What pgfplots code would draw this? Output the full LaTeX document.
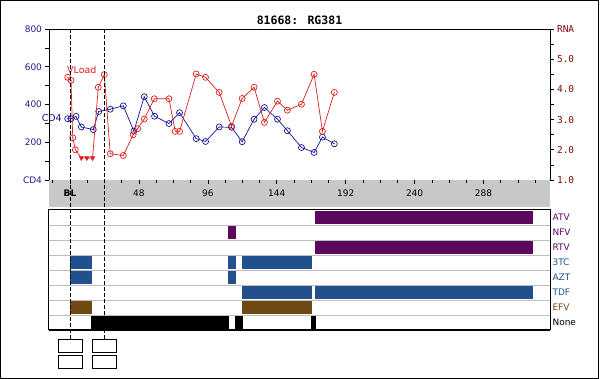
\documentclass[border=0pt]{standalone}
\usepackage{pgfplots}
\pgfplotsset{compat=1.18}
\usepackage{fontspec}
\setmainfont{DejaVu Sans}
\newfontfamily\monofont{DejaVu Sans Mono}
\definecolor{cdblue}{RGB}{20,20,150}
\definecolor{rnared}{RGB}{220,30,30}
\definecolor{axblue}{RGB}{30,30,140}
\definecolor{axred}{RGB}{128,10,10}
\definecolor{drugpurple}{RGB}{92,8,92}
\definecolor{drugblue}{RGB}{33,80,140}
\definecolor{drugbrown}{RGB}{110,74,18}
\definecolor{bandgray}{RGB}{200,200,200}
\definecolor{rowgray}{RGB}{190,190,190}
\pgfdeclareplotmark{codot}{%
  \pgfpathcircle{\pgfpointorigin}{\pgfplotmarksize}\pgfusepathqstroke
  \pgfpathcircle{\pgfpointorigin}{0.5pt}\pgfusepathqfill}
\pgfplotsset{myx/.style={xmin=-14.63, xmax=334.3, scale only axis, width=501pt, anchor=south west,
  tick style={black, line width=0.6pt}}}
\begin{document}
\begin{tikzpicture}
\useasboundingbox (0pt,0pt) rectangle (600pt,379pt);
\draw[line width=1pt] (0.5pt,0.5pt) rectangle (598.5pt,378.5pt);
\node[font=\monofont\bfseries\fontsize{11.5}{12}\selectfont] at (299.5pt,359pt) {81668: RG381};

% CD4 axis
\begin{axis}[myx, at={(49pt,199pt)}, height=151pt, ymin=0, ymax=800,
  ytick={0,200,...,800}, minor ytick={100,300,500,700},
  yticklabels={CD4,200,400,600,800}, ytick pos=left, xtick=\empty,
  tick align=outside, major tick length=3.5pt, minor tick length=3.5pt,
  yticklabel style={font=\fontsize{9}{10}\selectfont, text=axblue},
  axis line style={line width=0.8pt}, clip=false]
\addplot[cdblue, line width=0.7pt, mark=codot, mark size=3pt, mark options={solid}] coordinates {
(-1.6,325) (0.7,325) (4.2,337) (7.9,281) (16.2,267) (20,363) (28,375) (37.1,393)
(44.5,259) (51.7,441) (58.9,338) (68.9,299) (76.3,357) (87.9,219) (94.4,204)
(103.9,281) (112.5,279) (119.9,203) (128.2,322) (135.4,384) (144.5,322) (151.4,261)
(161.2,172) (170,146) (175.8,227) (184.1,192)};
\node[anchor=east, text=cdblue, font=\fontsize{9.5}{10}\selectfont, inner sep=0pt] at (axis cs:-5.6,327) {CD4};
\end{axis}

% RNA axis
\begin{axis}[myx, at={(49pt,199pt)}, height=151pt, ymin=1, ymax=6,
  ytick={1,...,6}, minor ytick={1.5,2.5,3.5,4.5,5.5},
  yticklabels={1.0,2.0,3.0,4.0,5.0,RNA}, ytick pos=right, xtick=\empty,
  tick align=outside, major tick length=3.5pt, minor tick length=3.5pt,
  yticklabel style={font=\monofont\fontsize{9.5}{10}\selectfont, text=axred},
  axis line style={line width=0.8pt}, clip=false]
\addplot[rnared, line width=0.7pt] coordinates {
(-1.6,4.4) (0.7,4.3) (1.9,2.4) (3.7,2.0) (7.9,1.73) (11.8,1.73) (15.7,1.73)
(19.7,4.07) (23.9,4.49) (28,1.87) (37.1,1.81) (44,2.5) (47.1,2.7) (51.7,3.02)
(58.7,3.69) (68.9,3.69) (73.3,2.61) (76.3,2.61) (87.9,4.51) (94.4,4.4) (103.9,3.9)
(112.5,2.78) (119.9,3.7) (128.2,4.07) (135.4,2.91) (144.5,3.61) (151.4,3.31)
(161.2,3.51) (170,4.5) (175.8,2.61) (184.1,3.9)};
\addplot[rnared, line width=0.7pt, only marks, mark=codot, mark size=3pt] coordinates {
(-1.6,4.4) (0.7,4.3) (1.9,2.4) (3.7,2.0)
(19.7,4.07) (23.9,4.49) (28,1.87) (37.1,1.81) (44,2.5) (47.1,2.7) (51.7,3.02)
(58.7,3.69) (68.9,3.69) (73.3,2.61) (76.3,2.61) (87.9,4.51) (94.4,4.4) (103.9,3.9)
(112.5,2.78) (119.9,3.7) (128.2,4.07) (135.4,2.91) (144.5,3.61) (151.4,3.31)
(161.2,3.51) (170,4.5) (175.8,2.61) (184.1,3.9)};
\addplot[rnared, only marks, mark=triangle*, mark size=2.6pt, mark options={rotate=180, fill=rnared}] coordinates {
(7.9,1.73) (11.8,1.73) (15.7,1.73)};
\node[anchor=west, text=rnared, font=\fontsize{9.5}{10}\selectfont, inner sep=0pt] at (axis cs:-2.1,4.64) {VLoad};
\end{axis}

% gray time band
\begin{axis}[myx, at={(49pt,172pt)}, height=27pt, ymin=0, ymax=1, ytick=\empty,
  axis background/.style={fill=bandgray}, axis line style={draw=none},
  xtick={0,48,...,288}, xticklabels={\textbf{BL},48,96,144,192,240,288},
  minor xtick={-12,12,24,36,60,72,84,108,120,132,156,168,180,204,216,228,252,264,276,300,312,324},
  xtick pos=right, xticklabel pos=left, tick align=inside,
  major tick length=4pt, minor tick length=3.5pt,
  xticklabel style={anchor=center, yshift=13.5pt, font=\fontsize{9}{10}\selectfont}]
\addplot[draw=none] coordinates {(0,0.5)};
\end{axis}

% regimen panel
\begin{axis}[myx, at={(49pt,49pt)}, height=120pt, ymin=0, ymax=8, xtick=\empty,
  ytick={0.5,1.5,...,7.5},
  yticklabels={\textcolor{black}{None},\textcolor{drugbrown}{EFV},\textcolor{drugblue}{TDF},\textcolor{drugblue}{AZT},\textcolor{drugblue}{3TC},\textcolor{drugpurple}{RTV},\textcolor{drugpurple}{NFV},\textcolor{drugpurple}{ATV}},
  ytick pos=right, yticklabel pos=right, major tick length=0pt,
  yticklabel style={anchor=west, font=\fontsize{9}{10}\selectfont, xshift=-1pt},
  extra y ticks={1,2,3,4,5,6,7}, extra y tick labels={},
  extra y tick style={grid=major, major grid style={rowgray, line width=0.7pt}, major tick length=0pt},
  axis line style={line width=1pt}, clip=false]
% ATV
\addplot[fill=drugpurple, draw=none] coordinates {(170.6,7.06) (322.3,7.06) (322.3,7.94) (170.6,7.94)} --cycle;
% NFV
\addplot[fill=drugpurple, draw=none] coordinates {(110.0,6.06) (115.6,6.06) (115.6,6.94) (110.0,6.94)} --cycle;
% RTV
\addplot[fill=drugpurple, draw=none] coordinates {(170.6,5.06) (322.3,5.06) (322.3,5.94) (170.6,5.94)} --cycle;
% 3TC
\addplot[fill=drugblue, draw=none] coordinates {(0,4.06) (15.1,4.06) (15.1,4.94) (0,4.94)} --cycle;
\addplot[fill=drugblue, draw=none] coordinates {(110.0,4.06) (115.6,4.06) (115.6,4.94) (110.0,4.94)} --cycle;
\addplot[fill=drugblue, draw=none] coordinates {(119.8,4.06) (168.4,4.06) (168.4,4.94) (119.8,4.94)} --cycle;
% AZT
\addplot[fill=drugblue, draw=none] coordinates {(0,3.06) (15.1,3.06) (15.1,3.94) (0,3.94)} --cycle;
\addplot[fill=drugblue, draw=none] coordinates {(110.0,3.06) (115.6,3.06) (115.6,3.94) (110.0,3.94)} --cycle;
% TDF
\addplot[fill=drugblue, draw=none] coordinates {(119.8,2.06) (168.4,2.06) (168.4,2.94) (119.8,2.94)} --cycle;
\addplot[fill=drugblue, draw=none] coordinates {(170.6,2.06) (322.3,2.06) (322.3,2.94) (170.6,2.94)} --cycle;
% EFV
\addplot[fill=drugbrown, draw=none] coordinates {(0,1.06) (15.1,1.06) (15.1,1.94) (0,1.94)} --cycle;
\addplot[fill=drugbrown, draw=none] coordinates {(119.8,1.06) (168.4,1.06) (168.4,1.94) (119.8,1.94)} --cycle;
% None
\addplot[fill=black, draw=none] coordinates {(14.6,0.06) (110.5,0.06) (110.5,0.94) (14.6,0.94)} --cycle;
\addplot[fill=black, draw=none] coordinates {(114.9,0.06) (120.3,0.06) (120.3,0.94) (114.9,0.94)} --cycle;
\addplot[fill=black, draw=none] coordinates {(167.9,0.06) (171.1,0.06) (171.1,0.94) (167.9,0.94)} --cycle;
% thicker bottom border
\draw[line width=2pt] (rel axis cs:0,0) -- (rel axis cs:1,0);
% reference lines and boxes
\draw[dash pattern=on 4pt off 2pt, line width=0.7pt] (axis cs:0,-0.62) -- (axis cs:0,20.07);
\draw[dash pattern=on 4pt off 2pt, line width=0.7pt] (axis cs:24,-0.62) -- (axis cs:24,20.07);
\draw[line width=0.8pt] (axis cs:-8.36,-0.62) rectangle (axis cs:8.36,-1.51);
\draw[line width=0.8pt] (axis cs:-8.36,-1.67) rectangle (axis cs:8.36,-2.55);
\draw[line width=0.8pt] (axis cs:15.64,-0.62) rectangle (axis cs:32.36,-1.51);
\draw[line width=0.8pt] (axis cs:15.64,-1.67) rectangle (axis cs:32.36,-2.55);
\end{axis}
\end{tikzpicture}
\end{document}
